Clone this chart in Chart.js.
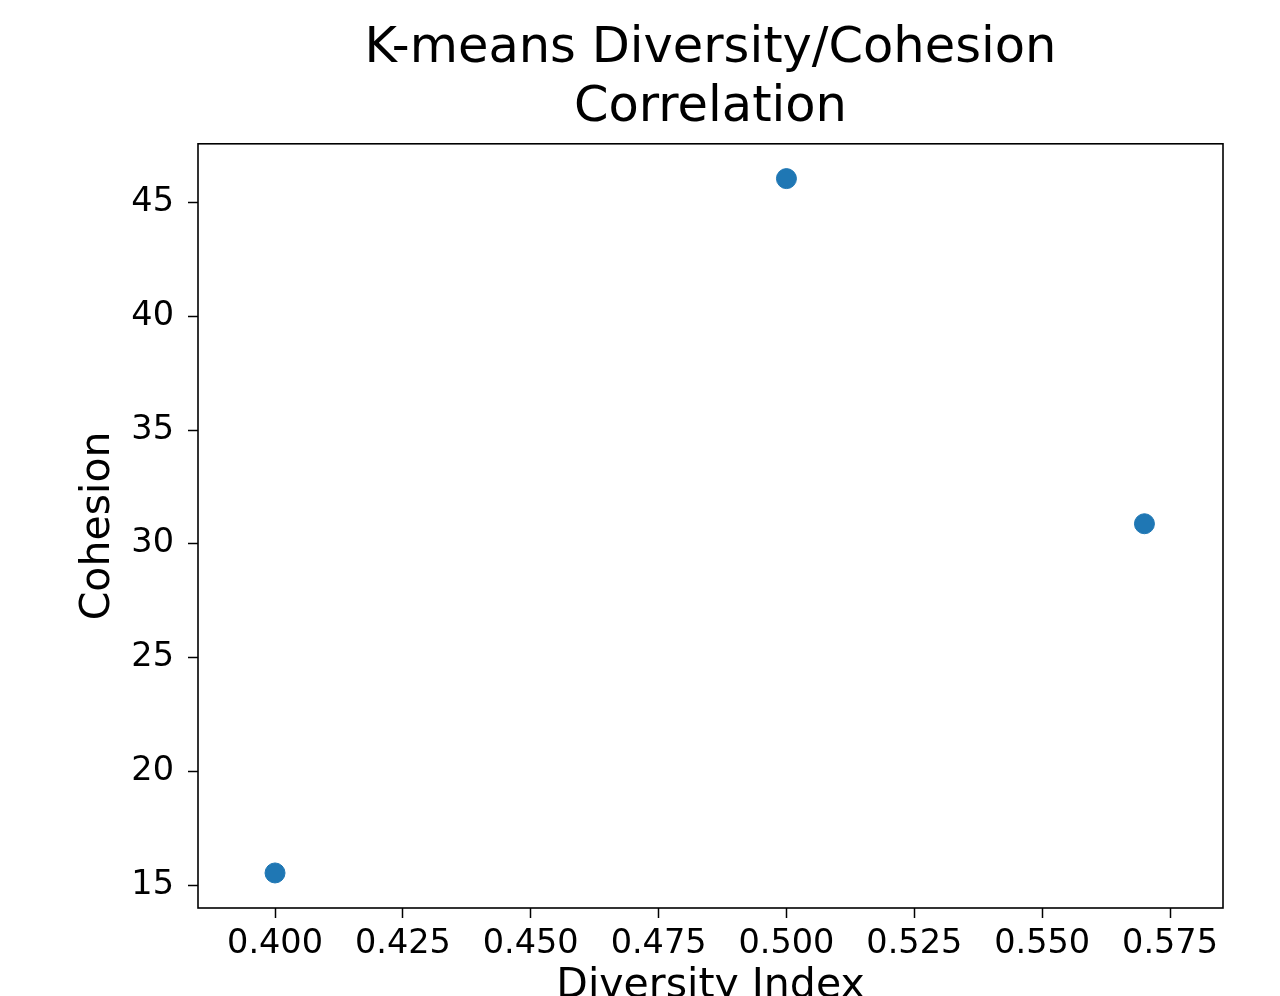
<!DOCTYPE html>
<html>
<head>
<meta charset="utf-8">
<title>K-means Diversity/Cohesion Correlation</title>
<script src="https://cdn.jsdelivr.net/npm/chart.js@4/dist/chart.umd.min.js"></script>
<style>
    html, body { margin: 0; padding: 0; background: #fff; overflow: hidden; }
    #wrap { width: 1280px; height: 996px; }
</style>
</head>
<body>
<div id="wrap"><canvas id="scatter_chart" width="1280" height="996"></canvas></div>
<script>
// values
var Diversity = [0.400, 0.500, 0.570];
var Cohesion = [15.53, 46.05, 30.88];
var TitleLines = ["K-means Diversity/Cohesion", "Correlation"];
var XTitle = "Diversity Index";
var YTitle = "Cohesion";

var Points = [];
for (var i = 0; i < Diversity.length; ++i) {
    Points.push({ x: Diversity[i], y: Cohesion[i] });
}

// draws the box round the plot area like matplotlib does
var FramePlugin = {
    id: 'frame',
    afterDraw: function (chart) {
        var a = chart.chartArea;
        var ctx = chart.ctx;
        ctx.save();
        ctx.strokeStyle = '#000';
        ctx.lineWidth = 1.6;
        ctx.strokeRect(a.left, a.top, a.right - a.left, a.bottom - a.top);
        ctx.restore();
    }
};

var Form = {
    Config: function () {
        var config = null;

        config = {
            type: 'scatter',
            data: {
                datasets: [{
                    label: "Cohesion",
                    data: Points,
                    backgroundColor: '#1f77b4',
                    borderColor: '#1f77b4',
                    borderWidth: 1,
                    pointRadius: 10,
                    pointHoverRadius: 10
                }]
            },
            options: {
                responsive: false,
                animation: false,
                events: [],
                layout: {
                    padding: { left: 0, right: 57, top: 0, bottom: 0 }
                },
                plugins: {
                    legend: { display: false },
                    tooltip: { enabled: false },
                    title: {
                        display: true,
                        text: TitleLines,
                        fullSize: false,
                        color: '#000',
                        font: { family: 'DejaVu Sans', size: 49.5, weight: 'normal', lineHeight: 1.2 },
                        padding: { top: 19, bottom: 6 }
                    }
                },
                scales: {
                    x: {
                        type: 'linear',
                        min: 0.38494,
                        max: 0.58536,
                        afterFit: function (scale) { scale.height = 88; },
                        border: { display: false },
                        grid: {
                            drawOnChartArea: false,
                            drawTicks: true,
                            tickLength: 10,
                            tickWidth: 1.5,
                            tickColor: '#000'
                        },
                        ticks: {
                            stepSize: 0.025,
                            includeBounds: false,
                            padding: 6,
                            color: '#000',
                            maxRotation: 0,
                            autoSkip: false,
                            font: { family: 'DejaVu Sans', size: 33.5 },
                            callback: function (value) { return Number(value).toFixed(3); }
                        },
                        title: {
                            display: true,
                            text: XTitle,
                            color: '#000',
                            font: { family: 'DejaVu Sans', size: 41, lineHeight: 1.2 },
                            padding: { top: 0, bottom: -15 }
                        }
                    },
                    y: {
                        type: 'linear',
                        min: 13.99,
                        max: 47.58,
                        afterFit: function (scale) { scale.width = 198; },
                        border: { display: false },
                        grid: {
                            drawOnChartArea: false,
                            drawTicks: true,
                            tickLength: 10,
                            tickWidth: 1.5,
                            tickColor: '#000'
                        },
                        ticks: {
                            stepSize: 5,
                            includeBounds: false,
                            padding: 14,
                            color: '#000',
                            autoSkip: false,
                            font: { family: 'DejaVu Sans', size: 33.5 },
                            callback: function (value) { return value; }
                        },
                        title: {
                            display: true,
                            text: YTitle,
                            color: '#000',
                            font: { family: 'DejaVu Sans', size: 41, lineHeight: 1.2 },
                            padding: { top: 74, bottom: 0 }
                        }
                    }
                }
            },
            plugins: [FramePlugin]
        };

        return config;
    },
    Init: function () {
        new Chart(document.getElementById("scatter_chart").getContext("2d"), Form.Config());
    }
};

Form.Init();
</script>
</body>
</html>
